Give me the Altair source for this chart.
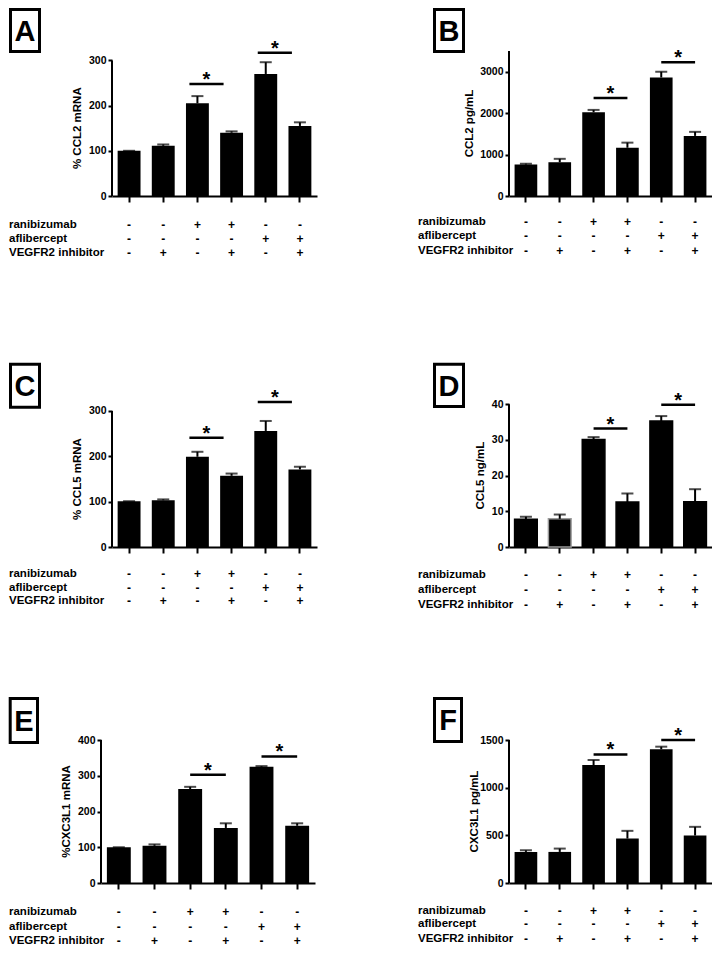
import altair as alt
import pandas as pd

# ---------------- data ----------------
groups = ["g1", "g2", "g3", "g4", "g5", "g6"]
ranibizumab = ["-", "-", "+", "+", "-", "-"]
aflibercept = ["-", "-", "-", "-", "+", "+"]
vegfr2_inhibitor = ["-", "+", "-", "+", "-", "+"]
row_names = ["ranibizumab", "aflibercept", "VEGFR2 inhibitor"]

sig_from = ["g3", "g5"]
sig_to = ["g4", "g6"]

a_mean = [100, 111, 205, 140, 270, 155]
a_upper = [100, 114, 221, 143, 296, 163]
a_sig = [248, 317]

b_mean = [758, 815, 2021, 1165, 2861, 1451]
b_upper = [780, 897, 2078, 1288, 2999, 1548]
b_sig = [2363, 3227]

c_mean = [101, 103, 199, 157, 256, 171]
c_upper = [101, 105, 210, 162, 278, 177]
c_sig = [241, 320]

d_mean = [7.8, 7.9, 30.1, 12.6, 35.3, 12.7]
d_upper = [8.5, 9.1, 30.8, 15.0, 36.7, 16.2]
d_sig = [33.2, 39.9]

e_mean = [100, 104, 263, 154, 325, 160]
e_upper = [100, 108, 269, 167, 327, 167]
e_sig = [303, 354]

f_mean = [326, 326, 1237, 466, 1402, 498]
f_upper = [343, 361, 1290, 547, 1430, 589]
f_sig = [1349, 1500]

FONT = "Liberation Sans"

panels = [
    dict(letter="A", title="% CCL2 mRNA", mean=a_mean, upper=a_upper, sig=a_sig,
         ticks=[0, 100, 200, 300], axis_top=300, dom_top=320.8, width=216, height=145,
         x0=11, x1=216, label_x=-92, rows=[174, 188, 202], box=(-92, -43, -60, 2),
         title_x=-23, sig_dx=-8),
    dict(letter="B", title="CCL2  pg/mL", mean=b_mean, upper=b_upper, sig=b_sig,
         ticks=[0, 1000, 2000, 3000], axis_top=3500, dom_top=3500, width=203, height=145,
         x0=0, x1=203, label_x=-91, rows=[171.3, 185.3, 199.7], box=(-76, -43, -44, 2),
         title_x=-39, sig_dx=0),
    dict(letter="C", title="% CCL5 mRNA", mean=c_mean, upper=c_upper, sig=c_sig,
         ticks=[0, 100, 200, 300], axis_top=300, dom_top=348.5, width=216, height=158,
         x0=11, x1=216, label_x=-92, rows=[184.7, 198.7, 212.3], box=(-92, -26.3, -60, 19.7),
         title_x=-23, sig_dx=-8),
    dict(letter="D", title="CCL5 ng/mL", mean=d_mean, upper=d_upper, sig=d_sig,
         ticks=[0, 10, 20, 30, 40], axis_top=40, dom_top=44.29, width=203, height=158,
         x0=0, x1=203, label_x=-91, rows=[186.3, 201.3, 216.3], box=(-76, -26.3, -44, 19),
         title_x=-28, sig_dx=0),
    dict(letter="E", title="%CXC3L1 mRNA", mean=e_mean, upper=e_upper, sig=e_sig,
         ticks=[0, 100, 200, 300, 400], axis_top=400, dom_top=400, width=216, height=143,
         x0=0, x1=214, label_x=-92, rows=[172.3, 186.7, 200.7], box=(-92.3, -43, -62, 4),
         title_x=-34, sig_dx=0),
    dict(letter="F", title="CXC3L1 pg/mL", mean=f_mean, upper=f_upper, sig=f_sig,
         ticks=[0, 500, 1000, 1500], axis_top=1500, dom_top=1500, width=203, height=143,
         x0=0, x1=203, label_x=-91, rows=[170.7, 184, 199], box=(-76, -43, -46, 3),
         title_x=-34, sig_dx=0),
]


def make_panel(p):
    h, w = p["height"], p["width"]
    df = pd.DataFrame({"g": groups, "mean": p["mean"], "upper": p["upper"],
                       "ran": ranibizumab, "afl": aflibercept, "veg": vegfr2_inhibitor})
    sdf = pd.DataFrame({"g1": sig_from, "g2": sig_to, "val": p["sig"]})

    xscale = alt.Scale(domain=groups, range=[p["x0"], p["x1"]],
                       paddingInner=0.33, paddingOuter=0.165)
    xaxis = alt.Axis(labels=False, title=None, domainWidth=2, domainColor="black",
                     tickColor="black", tickWidth=2, tickSize=6, grid=False)
    yscale = alt.Scale(domain=[0, p["dom_top"]], nice=False, zero=True)
    yaxis = alt.Axis(values=p["ticks"], format="d", domain=False, title=None, tickSize=4,
                     tickWidth=2, tickColor="black", labelFont=FONT, labelFontSize=10.5,
                     labelFontWeight="bold", labelColor="black", labelPadding=2,
                     grid=False, offset=-p["x0"])

    def X(f):
        return alt.X(f, type="nominal", scale=xscale, axis=xaxis, sort=groups)

    def Y(f):
        return alt.Y(f, type="quantitative", scale=yscale, axis=yaxis)

    base = alt.Chart(df)
    if p["letter"] == "D":
        bars = base.mark_bar(strokeWidth=1.5).encode(
            x=X("g"), y=Y("mean"),
            color=alt.value("black"),
            stroke=alt.condition(alt.datum.g == "g2", alt.value("#9a9a9a"), alt.value("black")))
    else:
        bars = base.mark_bar(color="black").encode(x=X("g"), y=Y("mean"))
    err = base.mark_rule(color="black", strokeWidth=2).encode(x=X("g"), y=Y("mean"), y2="upper")
    cap = base.mark_tick(orient="horizontal", size=12, thickness=2, color="black").encode(
        x=X("g"), y=Y("upper"))

    step = (p["x1"] - p["x0"]) / 6.0
    line = alt.Chart(sdf).mark_rule(color="black", strokeWidth=2.5,
                                    xOffset=p["sig_dx"], x2Offset=p["sig_dx"]).encode(
        x=X("g1"), x2="g2", y=Y("val"))
    ast = alt.Chart(sdf).mark_text(text="*", fontSize=20, fontWeight="bold", font=FONT,
                                   align="center", baseline="alphabetic",
                                   dx=step / 2 + p["sig_dx"], dy=2, color="black").encode(
        x=X("g1"), y=Y("val"))

    yline = alt.Chart(pd.DataFrame({"y0": [0], "y1": [p["axis_top"]]})).mark_rule(
        color="black", strokeWidth=2).encode(x=alt.value(p["x0"]), y=Y("y0"), y2="y1")

    layers = [bars, err, cap, line, ast, yline]

    for field, name, py in zip(["ran", "afl", "veg"], row_names, p["rows"]):
        layers.append(base.mark_text(fontSize=12, fontWeight="bold", font=FONT,
                                     baseline="middle", align="center", color="black").encode(
            x=X("g"), y=alt.value(py), text=f"{field}:N"))
        layers.append(alt.Chart(pd.DataFrame({"t": [name]})).mark_text(
            fontSize=11.5, fontWeight="bold", font=FONT, align="left", baseline="middle",
            color="black").encode(x=alt.value(p["label_x"]), y=alt.value(py), text="t:N"))

    bx0, by0, bx1, by1 = p["box"]
    one = pd.DataFrame({"k": [0]})
    layers.append(alt.Chart(one).mark_rect(fill="white", fillOpacity=0, stroke="black",
                                           strokeWidth=3).encode(
        x=alt.value(bx0 + 1.5), x2=alt.value(bx1 - 1.5),
        y=alt.value(by0 + 1.5), y2=alt.value(by1 - 1.5)))
    layers.append(alt.Chart(one).mark_text(text=p["letter"], fontSize=29, fontWeight="bold",
                                           font=FONT, align="center", baseline="alphabetic",
                                           color="black").encode(
        x=alt.value((bx0 + bx1) / 2), y=alt.value((by0 + by1) / 2 + 10.4)))

    axis_top_px = h * (1 - p["axis_top"] / p["dom_top"])
    layers.append(alt.Chart(one).mark_text(text=p["title"], angle=270, fontSize=11.5,
                                           fontWeight="bold", font=FONT, align="center",
                                           baseline="middle", color="black").encode(
        x=alt.value(p["title_x"]), y=alt.value((axis_top_px + h) / 2)))

    return alt.layer(*layers).properties(width=w, height=h)


charts = [make_panel(p) for p in panels]

chart = alt.concat(*charts, columns=2, spacing={"row": 193, "column": 192},
                   bounds="flush").properties(padding=0).configure_view(
    stroke=None).configure_text(font=FONT)

chart.save("out.html", embed_options={"renderer": "svg", "actions": False})
